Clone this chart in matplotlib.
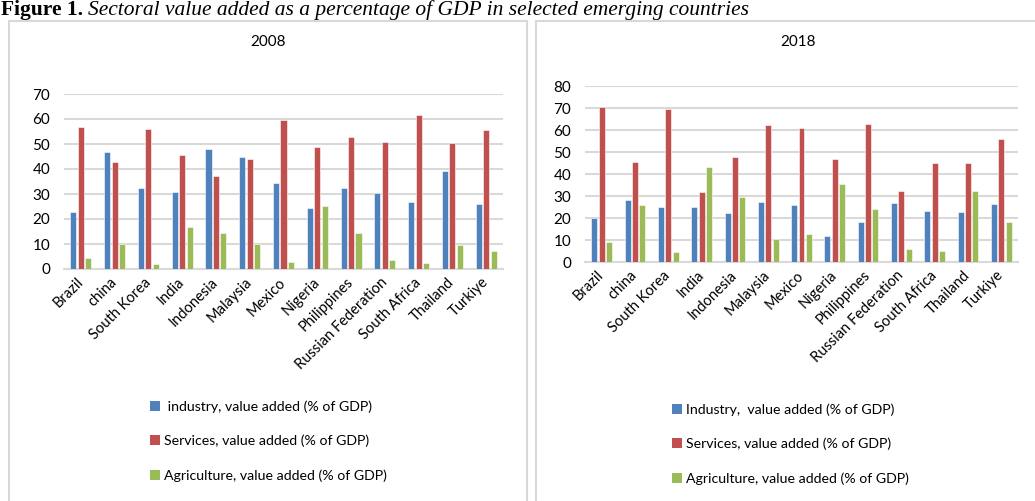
import matplotlib
matplotlib.use("Agg")
import matplotlib.pyplot as plt
from matplotlib.patches import Patch, Rectangle
import numpy as np

plt.rcParams['font.family'] = ['Lato', 'DejaVu Sans']

countries = ['Brazil', 'china', 'South Korea', 'India', 'Indonesia', 'Malaysia',
             'Mexico', 'Nigeria', 'Philippines', 'Russian Federation',
             'South Africa', 'Thailand', 'Turkiye']

# 2008
ind_2008 = [22.9, 46.8, 32.5, 31.0, 48.0, 45.0, 34.6, 24.6, 32.6, 30.6, 26.8, 39.4, 26.1]
serv_2008 = [56.7, 42.9, 56.2, 45.8, 37.4, 43.9, 59.5, 48.8, 52.7, 50.7, 61.6, 50.4, 55.5]
agr_2008 = [4.4, 10.1, 2.1, 16.8, 14.4, 10.0, 2.9, 25.2, 14.4, 3.6, 2.4, 9.8, 7.2]

# 2018
ind_2018 = [20.1, 28.1, 25.1, 24.8, 22.1, 27.1, 26.0, 11.8, 18.1, 26.8, 23.1, 22.7, 26.3]
serv_2018 = [70.6, 45.5, 69.7, 31.6, 47.9, 62.2, 60.9, 46.9, 62.8, 32.1, 44.9, 44.8, 55.8]
agr_2018 = [9.1, 25.9, 4.7, 43.1, 29.5, 10.4, 12.7, 35.4, 24.0, 5.7, 5.0, 32.1, 18.1]

labels_2008 = [' industry, value added (% of GDP)',
               'Services, value added (% of GDP)',
               'Agriculture, value added (% of GDP)']
labels_2018 = ['Industry,  value added (% of GDP)',
               'Services, value added (% of GDP)',
               'Agriculture, value added (% of GDP)']

colors = ['#4F81BD', '#C0504D', '#9BBB59']
grid_c = '#D9D9D9'

W, H = 1035, 501
fig = plt.figure(figsize=(W / 100, H / 100), dpi=100)


def px(x0, y0, x1, y1):
    # pixel box (top-left origin) -> figure fraction rect
    return [x0 / W, 1 - y1 / H, (x1 - x0) / W, (y1 - y0) / H]


# panel borders
box_top = 21
for bx0, bx1 in [(9, 527), (536, 1040)]:
    fig.patches.append(Rectangle((bx0 / W, -0.05), (bx1 - bx0) / W,
                                 1.05 - box_top / H,
                                 transform=fig.transFigure, fill=False,
                                 edgecolor=grid_c, linewidth=1.5))

# figure caption (cut off in the source, kept fully visible here)
t1 = fig.text(1 / W, 1 - 15 / H, 'Figure 1.', fontsize=15.5, fontweight='bold',
              family='Liberation Serif', va='baseline', ha='left')
r = fig.canvas.get_renderer()
bb = t1.get_window_extent(renderer=r)
fig.text((bb.x1 + 5) / W, 1 - 15 / H,
         'Sectoral value added as a percentage of GDP in selected emerging countries',
         fontsize=15.5, fontstyle='italic', family='Liberation Serif',
         va='baseline', ha='left')


def draw(ax, series, ymax, title, tx, ty):
    x = np.arange(len(countries))
    off = [-0.22, 0, 0.22]
    for s, o, c in zip(series, off, colors):
        ax.bar(x + o, s, width=0.18, color=c, edgecolor='white', linewidth=0.4,
               zorder=3)
    ax.set_xlim(-0.5, len(countries) - 0.5)
    ax.set_ylim(0, ymax)
    ax.set_yticks(np.arange(0, ymax + 1, 10))
    ax.yaxis.grid(True, color=grid_c, linewidth=1.5, zorder=0)
    ax.set_axisbelow(True)
    for sp in ['top', 'right', 'left']:
        ax.spines[sp].set_visible(False)
    ax.spines['bottom'].set_color(grid_c)
    ax.spines['bottom'].set_linewidth(1.5)
    ax.tick_params(axis='both', length=0, colors='black')
    ax.tick_params(axis='y', pad=10, labelsize=11)
    ax.set_xticks(x)
    ax.set_xticklabels(countries, rotation=45, ha='right', va='center',
                       rotation_mode='anchor', fontsize=10.5)
    ax.tick_params(axis='x', pad=8)
    fig.text(tx / W, 1 - ty / H, title, fontsize=11, ha='center', va='center')


ax1 = fig.add_axes(px(64, 94, 503, 269))
draw(ax1, [ind_2008, serv_2008, agr_2008], 70, '2008', 268, 42)

ax2 = fig.add_axes(px(585, 86, 1018, 262))
draw(ax2, [ind_2018, serv_2018, agr_2018], 80, '2018', 798, 42)

for labels, lx, ly in [(labels_2008, 150, 400), (labels_2018, 672, 403)]:
    handles = [Patch(facecolor=c, edgecolor='none') for c in colors]
    fig.legend(handles, labels, loc='upper left',
               bbox_to_anchor=(lx / W, 1 - ly / H), frameon=False,
               fontsize=10.2, handlelength=0.7, handleheight=0.7,
               handletextpad=0.3, labelspacing=1.55, borderpad=0,
               borderaxespad=0)

fig.savefig('out.png', dpi=100)
